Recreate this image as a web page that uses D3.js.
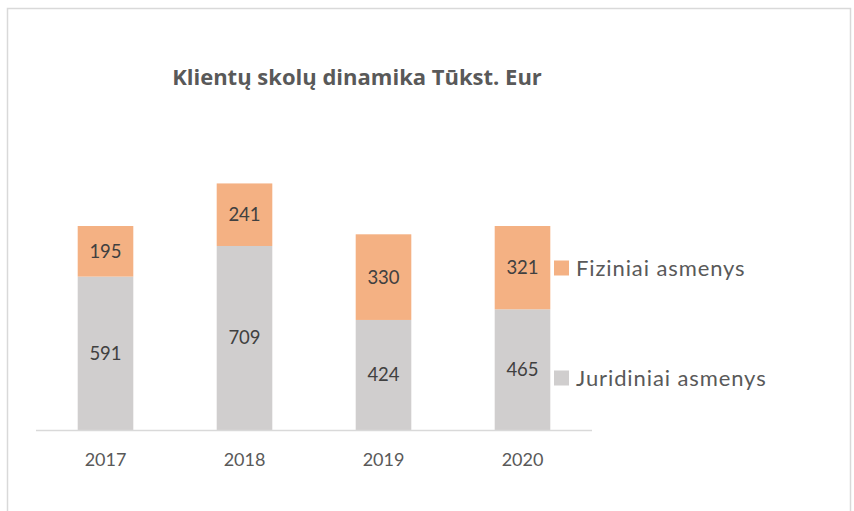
<!DOCTYPE html>
<html>
<head>
<meta charset="utf-8">
<script src="https://cdn.jsdelivr.net/npm/d3@7"></script>
<style>
  body { margin: 0; background: #fff; }
  text { font-family: Lato, "Open Sans", sans-serif; }
</style>
</head>
<body>
<div id="chart"></div>
<script>
// Data
var years = ["2017", "2018", "2019", "2020"];
var juridiniai = [591, 709, 424, 465];
var fiziniai = [195, 241, 330, 321];
var seriesNames = ["Juridiniai asmenys", "Fiziniai asmenys"];
var seriesColors = ["#D0CECE", "#F4B183"];

var svgWidth = 854;
var svgHeight = 511;

var svg = d3.select("#chart")
  .append("svg")
  .attr("width", svgWidth)
  .attr("height", svgHeight);

// Chart frame
svg.append("rect")
  .attr("x", 7.5)
  .attr("y", 8.5)
  .attr("width", 843)
  .attr("height", 520)
  .attr("fill", "#fff")
  .attr("stroke", "#D9D9D9")
  .attr("stroke-width", 1.5);

// Title
svg.append("text")
  .attr("x", 357)
  .attr("y", 85)
  .attr("text-anchor", "middle")
  .style("font-family", "'Open Sans', sans-serif")
  .style("font-size", "22px")
  .style("font-weight", "bold")
  .attr("fill", "#595959")
  .text("Klientų skolų dinamika Tūkst. Eur");

var plotLeft = 36, plotRight = 592, baseY = 430;

var table = years.map((y, i) => ({ year: y, Juridiniai: juridiniai[i], Fiziniai: fiziniai[i] }));
var stack = d3.stack().keys(["Juridiniai", "Fiziniai"])(table);

var x = d3.scaleBand()
  .domain(years)
  .range([plotLeft, plotRight])
  .paddingInner(0.6)
  .paddingOuter(0.3);

// 786 units = 204 px
var y = d3.scaleLinear()
  .domain([0, 786 * baseY / 204])
  .range([baseY, 0]);

var layers = svg.selectAll("g.layer")
  .data(stack)
  .enter()
  .append("g")
  .attr("class", "layer")
  .attr("fill", (d, i) => seriesColors[i]);

layers.selectAll("rect")
  .data(d => d)
  .enter()
  .append("rect")
  .attr("x", d => x(d.data.year))
  .attr("y", d => y(d[1]))
  .attr("width", x.bandwidth())
  .attr("height", d => y(d[0]) - y(d[1]));

// Data labels
layers.selectAll("text")
  .data(d => d)
  .enter()
  .append("text")
  .attr("x", d => x(d.data.year) + x.bandwidth() / 2)
  .attr("y", d => (y(d[0]) + y(d[1])) / 2 + 6.5)
  .attr("text-anchor", "middle")
  .attr("fill", "#404040")
  .style("font-size", "18.5px")
  .text(d => d[1] - d[0]);

// Axis
var xAxis = svg.append("g")
  .attr("transform", `translate(0, ${baseY})`)
  .call(d3.axisBottom(x).tickSize(0).tickPadding(23));
xAxis.select(".domain")
  .attr("d", `M${plotLeft},0.5H${plotRight}`)
  .attr("stroke", "#D9D9D9")
  .attr("stroke-width", 1.5);
xAxis.selectAll("text")
  .attr("fill", "#595959")
  .style("font-size", "18px")
  .style("font-family", "Lato, sans-serif");

// Legend
var legendItems = [
  { name: seriesNames[1], color: seriesColors[1], cy: 268 },
  { name: seriesNames[0], color: seriesColors[0], cy: 378 }
];
var legend = svg.selectAll("g.legend")
  .data(legendItems)
  .enter()
  .append("g")
  .attr("class", "legend");
legend.append("rect")
  .attr("x", 554)
  .attr("y", d => d.cy - 7.5)
  .attr("width", 15)
  .attr("height", 15)
  .attr("fill", d => d.color);
legend.append("text")
  .attr("x", 576)
  .attr("y", d => d.cy + 7.5)
  .attr("fill", "#595959")
  .style("font-size", "22px")
  .style("letter-spacing", "0.9px")
  .text(d => d.name);
</script>
</body>
</html>
